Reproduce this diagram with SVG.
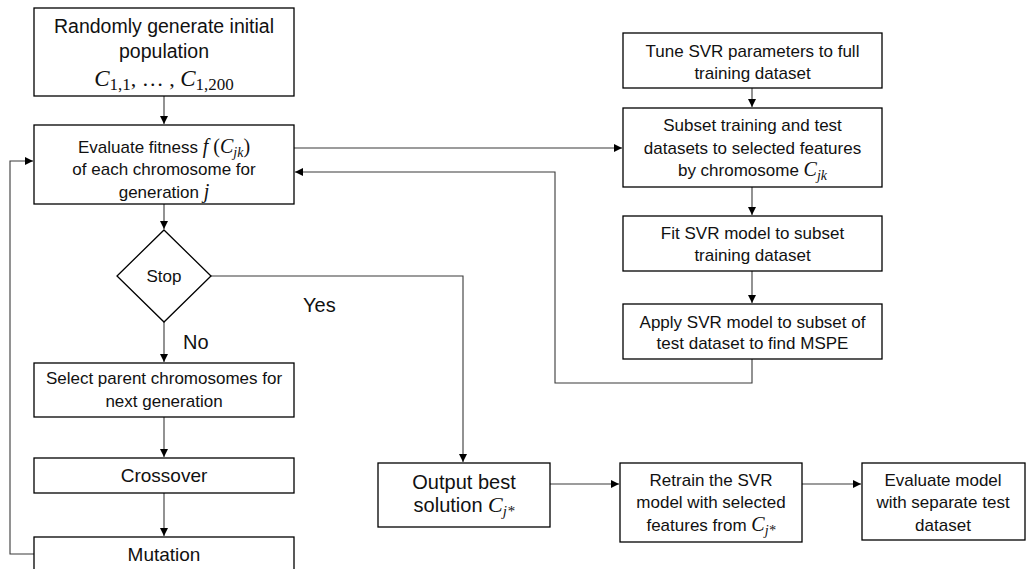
<svg xmlns="http://www.w3.org/2000/svg" width="1026" height="569" viewBox="0 0 1026 569">
<style>
.box{fill:#fff;stroke:#000;stroke-width:1.3}
.t{font-family:"Liberation Sans",Arial,sans-serif;font-size:17px;fill:#111;text-anchor:middle}
.big{font-size:19.5px}
.out{font-size:20px}
.cv{font-size:19px}
.lab{font-family:"Liberation Sans",Arial,sans-serif;font-size:20px;fill:#111}
.m{font-family:"Liberation Serif","Times New Roman",serif;font-style:italic}
.mr{font-family:"Liberation Serif","Times New Roman",serif}
.conn path{fill:none;stroke:#3a3a3a;stroke-width:1.1}
</style>
<defs>
<marker id="ah" markerUnits="userSpaceOnUse" markerWidth="9" markerHeight="8" refX="8" refY="4" orient="auto">
<path d="M0,0 L8,4 L0,8 Z" fill="#000"/>
</marker>
</defs>
<rect width="1026" height="569" fill="#fff"/>

<g class="conn">
<path d="M164,96 V124" marker-end="url(#ah)"/>
<path d="M164,204 V229" marker-end="url(#ah)"/>
<path d="M164,322 V362" marker-end="url(#ah)"/>
<path d="M164,417 V457" marker-end="url(#ah)"/>
<path d="M164,493 V536" marker-end="url(#ah)"/>
<path d="M34,554 H10 V161 H33" marker-end="url(#ah)"/>
<path d="M294,148 H622" marker-end="url(#ah)"/>
<path d="M752,88 V107" marker-end="url(#ah)"/>
<path d="M752,187 V215" marker-end="url(#ah)"/>
<path d="M752,271 V303" marker-end="url(#ah)"/>
<path d="M752,359 V383 H555 V172 H295" marker-end="url(#ah)"/>
<path d="M211,276 H463 V462" marker-end="url(#ah)"/>
<path d="M550,484 H619" marker-end="url(#ah)"/>
<path d="M802,484 H861" marker-end="url(#ah)"/>
</g>

<g id="init">
<rect class="box" x="34" y="8" width="260" height="88"/>
<text class="t big" x="164" y="33">Randomly generate initial</text>
<text class="t big" x="164" y="58">population</text>
<text class="t" x="164" y="86"><tspan class="m" font-size="23">C</tspan><tspan class="mr" font-size="17" dy="4">1,1</tspan><tspan class="mr" font-size="22" dy="-4">, … , </tspan><tspan class="m" font-size="23">C</tspan><tspan class="mr" font-size="17" dy="4">1,200</tspan></text>
</g>

<g id="evaluate">
<rect class="box" x="34" y="125" width="260" height="79"/>
<text class="t" x="164" y="153">Evaluate fitness <tspan class="m" font-size="20">f</tspan><tspan class="mr" font-size="20"> (</tspan><tspan class="m" font-size="20">C</tspan><tspan class="m" font-size="14" dy="4">jk</tspan><tspan class="mr" font-size="20" dy="-4">)</tspan></text>
<text class="t" x="164" y="175">of each chromosome for</text>
<text class="t" x="164" y="198">generation <tspan class="m" font-size="20">j</tspan></text>
</g>

<g id="stop">
<path class="box" d="M164,230 L211,276 L164,322 L117,276 Z"/>
<text class="t" x="164" y="282" font-size="16">Stop</text>
</g>

<g id="labels">
<text class="lab" x="303" y="312">Yes</text>
<text class="lab" x="183" y="349">No</text>
</g>

<g id="select">
<rect class="box" x="34" y="363" width="260" height="54"/>
<text class="t" x="164" y="384">Select parent chromosomes for</text>
<text class="t" x="164" y="407">next generation</text>
</g>

<g id="crossover">
<rect class="box" x="34" y="458" width="260" height="35"/>
<text class="t cv" x="164" y="482">Crossover</text>
</g>

<g id="mutation">
<rect class="box" x="34" y="537" width="260" height="40"/>
<text class="t cv" x="164" y="561">Mutation</text>
</g>

<g id="tune">
<rect class="box" x="623" y="33" width="259" height="55"/>
<text class="t" x="752.5" y="57">Tune SVR parameters to full</text>
<text class="t" x="752.5" y="79">training dataset</text>
</g>

<g id="subset">
<rect class="box" x="623" y="108" width="259" height="79"/>
<text class="t" x="752.5" y="131">Subset training and test</text>
<text class="t" x="752.5" y="154">datasets to selected features</text>
<text class="t" x="752.5" y="176">by chromosome <tspan class="m" font-size="20">C</tspan><tspan class="m" font-size="14" dy="4">jk</tspan></text>
</g>

<g id="fit">
<rect class="box" x="623" y="216" width="259" height="55"/>
<text class="t" x="752.5" y="239">Fit SVR model to subset</text>
<text class="t" x="752.5" y="261">training dataset</text>
</g>

<g id="apply">
<rect class="box" x="623" y="304" width="259" height="55"/>
<text class="t" x="752.5" y="328">Apply SVR model to subset of</text>
<text class="t" x="752.5" y="349">test dataset to find MSPE</text>
</g>

<g id="output">
<rect class="box" x="378" y="463" width="172" height="64"/>
<text class="t out" x="464" y="489">Output best</text>
<text class="t out" x="464" y="512">solution <tspan class="m" font-size="22">C</tspan><tspan class="m" font-size="15" dy="4">j*</tspan></text>
</g>

<g id="retrain">
<rect class="box" x="620" y="463" width="182" height="79"/>
<text class="t" x="711" y="486">Retrain the SVR</text>
<text class="t" x="711" y="508">model with selected</text>
<text class="t" x="711" y="531">features from <tspan class="m" font-size="20">C</tspan><tspan class="m" font-size="14" dy="4">j*</tspan></text>
</g>

<g id="final">
<rect class="box" x="862" y="463" width="163" height="77"/>
<text class="t" x="943" y="486">Evaluate model</text>
<text class="t" x="943" y="508">with separate test</text>
<text class="t" x="943" y="531">dataset</text>
</g>
</svg>
